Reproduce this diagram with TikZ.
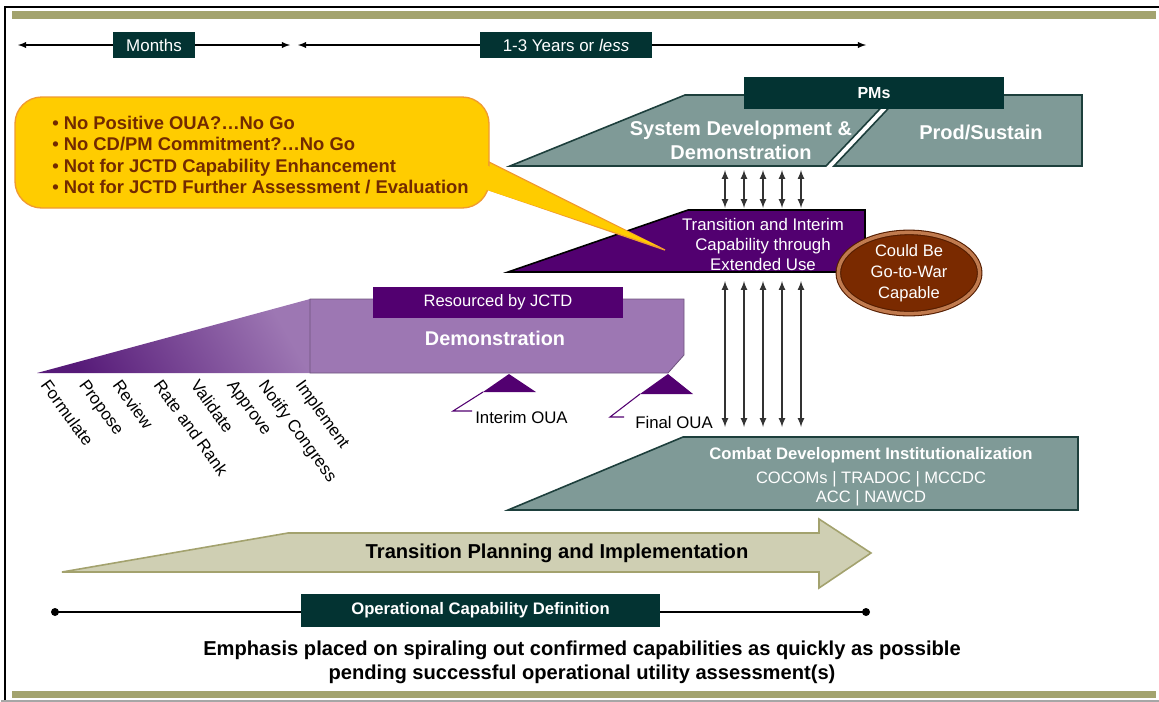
\documentclass[tikz,border=0pt]{standalone}
\usepackage{fontspec}
\setmainfont{Liberation Sans}
\usetikzlibrary{shapes.geometric}

\definecolor{olivebar}{HTML}{A3A36E}
\definecolor{darkteal}{HTML}{033332}
\definecolor{slategreen}{HTML}{7F9A97}
\definecolor{slateedge}{HTML}{1D3F3C}
\definecolor{deeppurple}{HTML}{520070}
\definecolor{lightpurple}{HTML}{9D77B3}
\definecolor{wedgedark}{HTML}{561A78}
\definecolor{calloutfill}{HTML}{FFCC00}
\definecolor{calloutedge}{HTML}{F09A30}
\definecolor{callouttext}{HTML}{722A00}
\definecolor{brownfill}{HTML}{7A2A00}
\definecolor{brownring}{HTML}{C07A4E}
\definecolor{beigefill}{HTML}{CFCFB3}
\definecolor{beigeedge}{HTML}{A3A26E}

\begin{document}
\begin{tikzpicture}[x=0.75pt,y=-0.75pt,
    tag/.style={fill=darkteal,text=white,inner sep=0pt},
    slab/.style={fill=slategreen,draw=slateedge,line width=1.2pt},
    callout/.style={fill=calloutfill,draw=calloutedge,line width=1pt},
    span/.style={latex-latex,line width=1.1pt},
    link/.style={latex-latex,line width=1.3pt,draw=black!80},
    lead/.style={draw=deeppurple,line width=0.8pt},
    stage/.style={rotate=-54,anchor=north west,inner sep=0pt,font=\fontsize{12.7}{14}\selectfont}]
\useasboundingbox (0,0) rectangle (1159,701);

% Frame
\draw[line width=2.2pt] (5,701) -- (5,7) -- (1159,7);
\draw[black!35,line width=1pt] (1,701) -- (1159,701);
\fill[olivebar] (12,11) rectangle (1156,19);
\fill[olivebar] (12,691) rectangle (1156,698);

% Time spans
\coordinate (mL) at (18,45);
\coordinate (mR) at (290,45);
\coordinate (yL) at (298,45);
\coordinate (yR) at (866,45);
\draw[span] (mL) -- (mR);
\draw[span] (yL) -- (yR);
\node[tag,minimum width=61.5pt,minimum height=19.5pt,font=\fontsize{12.7}{14}\selectfont] (months) at (154,45) {Months};
\node[tag,minimum width=129pt,minimum height=19.5pt,font=\fontsize{12.7}{14}\selectfont] (years) at (566,45) {1-3 Years or \textit{less}};

% Upper slabs
\draw[slab] (510,166) -- (685,95) -- (893,95) -- (826,166) -- cycle;
\draw[slab] (834,166) -- (901,95) -- (1082,95) -- (1082,166) -- cycle;
\node[tag,minimum width=195pt,minimum height=24pt,font=\bfseries\fontsize{12}{14}\selectfont] (pms) at (874,93) {PMs};
\node[text=white,align=center,font=\bfseries\fontsize{15}{18}\selectfont] (sdd) at (741,140) {System Development \&\\Demonstration};
\node[text=white,font=\bfseries\fontsize{15}{17}\selectfont] (prod) at (981,132) {Prod/Sustain};

% Transition block
\draw[fill=deeppurple,draw=black,line width=1.2pt] (508,272) -- (688,210) -- (865,210) -- (865,272) -- cycle;
\node[text=white,align=center,font=\fontsize{12.6}{15}\selectfont] (interim) at (763,244) {Transition and Interim\\Capability through\\Extended Use};

% Callout
\draw[callout,rounded corners=20pt] (15,97) rectangle (489,208);
\draw[callout] (665,250) -- (489,162) -- (489,190) -- cycle;
\fill[calloutfill] (484,164) -- (484,189) -- (660,247) -- cycle;
\node[anchor=west,inner sep=0pt,align=left,text=callouttext,font=\bfseries\fontsize{13.8}{16.1}\selectfont] (nogo) at (52,155)
    {• No Positive OUA?…No Go\\• No CD/PM Commitment?…No Go\\• Not for JCTD Capability Enhancement\\• Not for JCTD Further Assessment / Evaluation};

% Go-to-war ellipse
\node[ellipse,fill=brownfill,draw=brownfill!70!black,double=brownring,double distance=2.6pt,line width=0.8pt,
    minimum width=106pt,minimum height=58pt,inner sep=0pt,text=white,align=center,
    font=\fontsize{12.4}{15.75}\selectfont] (war) at (909,273) {Could Be\\Go-to-War\\Capable};

% Double arrows
\foreach \x [count=\i] in {725,744,763,782,801} {
    \coordinate (ua\i) at (\x,170);
    \coordinate (ub\i) at (\x,208);
    \coordinate (la\i) at (\x,281);
    \coordinate (lb\i) at (\x,427);
    \draw[link] (ua\i) -- (ub\i);
    \draw[link] (la\i) -- (lb\i);
}

% Demonstration
\shade[bottom color=wedgedark,top color=lightpurple,shading angle=-60] (37,373) -- (310,299) -- (310,373) -- cycle;
\draw[fill=lightpurple,draw=lightpurple!70!black,line width=0.6pt] (310,299) -- (684,299) -- (684,355) -- (668,373) -- (310,373) -- cycle;
\node[tag,fill=deeppurple,minimum width=187.5pt,minimum height=23.25pt,font=\fontsize{12.4}{14}\selectfont] (jctd) at (498,302.5) {Resourced by JCTD};
\node[text=white,font=\bfseries\fontsize{14.9}{16}\selectfont] (demo) at (495,338) {Demonstration};

% Stages
\foreach \x/\lbl [count=\i] in {50/Formulate,88/Propose,122/Review,163/Rate and Rank,200/Validate,236/Approve,268/Notify Congress,305/Implement} {
    \node[stage] (stage\i) at (\x,378) {\lbl};
}

% OUA markers
\fill[deeppurple] (509,374) -- (536,392) -- (483,392) -- cycle;
\fill[deeppurple] (668,374) -- (693,394) -- (640,394) -- cycle;
\coordinate (iA) at (483,392);
\coordinate (iB) at (453,411);
\coordinate (iC) at (472,411);
\coordinate (fA) at (640,394);
\coordinate (fB) at (610,417);
\coordinate (fC) at (624,417);
\draw[lead] (iA) -- (iB) -- (iC);
\draw[lead] (fA) -- (fB) -- (fC);
\node[anchor=west,inner sep=0pt,font=\fontsize{12.6}{14}\selectfont] (ioua) at (475,417) {Interim OUA};
\node[anchor=west,inner sep=0pt,font=\fontsize{12.6}{14}\selectfont] (foua) at (635,422) {Final OUA};

% Combat development
\draw[slab] (508,510) -- (683,437) -- (1078,437) -- (1078,510) -- cycle;
\node[text=white,font=\bfseries\fontsize{12.5}{15}\selectfont] (cdi) at (871,455) {Combat Development Institutionalization};
\node[text=white,align=center,font=\fontsize{12.4}{14.5}\selectfont] (cocom) at (871,489) {COCOMs | TRADOC | MCCDC\\ACC | NAWCD};

% Transition planning arrow
\draw[fill=beigefill,draw=beigeedge,line width=1.2pt] (62,572) -- (288,533) -- (819,533) -- (819,519) -- (871,553) -- (819,588) -- (819,572) -- cycle;
\node[font=\bfseries\fontsize{15.1}{16}\selectfont] (tpi) at (557,553) {Transition Planning and Implementation};

% Operational capability definition
\coordinate (oL) at (55,612);
\coordinate (oR) at (866,612);
\draw[line width=1.5pt] (oL) -- (oR);
\fill (oL) circle (4);
\fill (oR) circle (4);
\node[tag,minimum width=269pt,minimum height=24.75pt,font=\bfseries\fontsize{12.5}{13}\selectfont] (ocd) at (480.5,610.5) {Operational Capability Definition};

% Emphasis
\node[align=center,font=\bfseries\fontsize{15.1}{18}\selectfont] (emph) at (582,662) {Emphasis placed on spiraling out confirmed capabilities as quickly as possible\\pending successful operational utility assessment(s)};
\end{tikzpicture}
\end{document}
